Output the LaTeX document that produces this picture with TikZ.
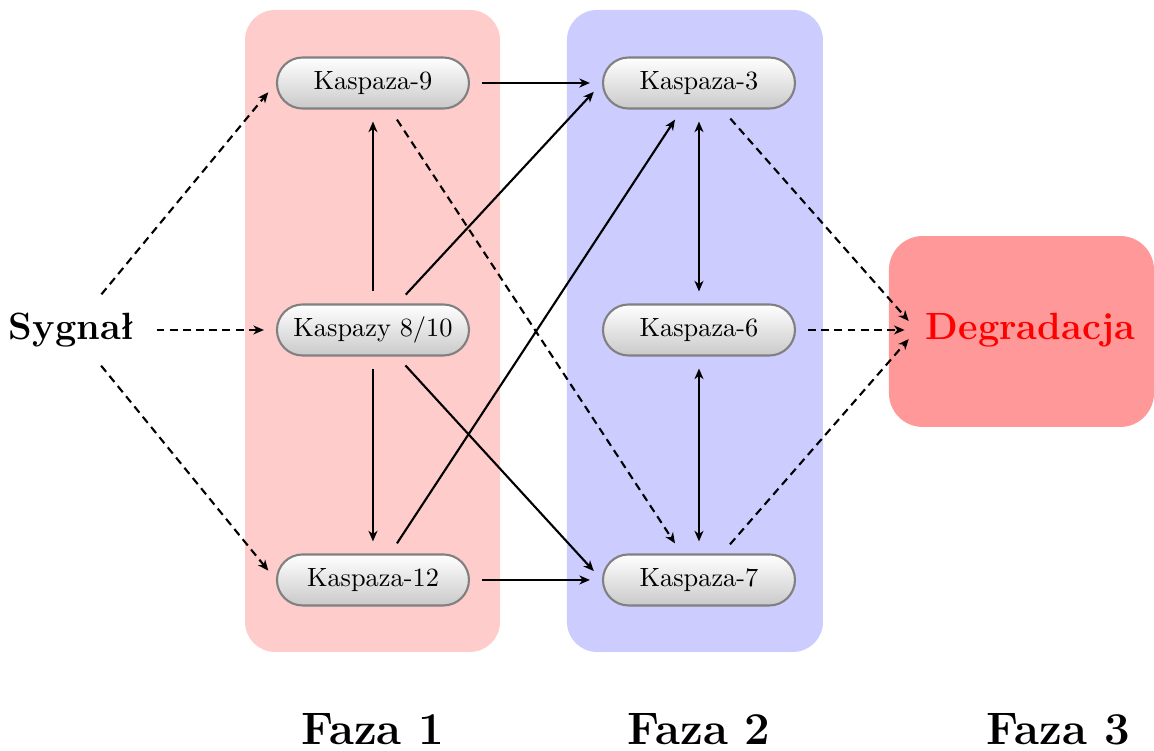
\documentclass[tikz,border=0pt]{standalone}
\usepackage{fontspec}
\usepackage{tikz}
\usetikzlibrary{
    arrows.meta,
    calc
}
\tikzset{
    kaspaza/.style={rectangle, rounded corners=0.34cm, draw=gray, thick, top color=white, bottom color=gray!42, minimum width=2.56cm, minimum height=0.68cm},
    tlo/.style={fill=#1, rounded corners=0.4cm},
    strzalka/.style={-{Stealth[length=4pt, width=3.4pt, inset=1.2pt]}, thick, shorten >=0.16cm, shorten <=0.16cm},
    obustronna/.style={strzalka, {Stealth[length=4pt, width=3.4pt, inset=1.2pt]}-{Stealth[length=4pt, width=3.4pt, inset=1.2pt]}},
    przerywana/.style={strzalka, densely dashed},
    faza/.style={font=\LARGE\bfseries}
}

\begin{document}
\begin{tikzpicture}
    \useasboundingbox (0, 0) rectangle (15.387, -10.013);
    % tla faz
    \fill[tlo=red!20] (3.267, -0.133) rectangle (6.667, -8.693);
    \fill[tlo=blue!20] (7.56, -0.133) rectangle (10.973, -8.693);
    \fill[tlo=red!40, rounded corners=0.45cm] (11.853, -3.147) rectangle (15.387, -5.693);

    \node[font=\Large\bfseries] (sygnal) at (0.96, -4.4) {Sygnał};
    \node[font=\Large\bfseries, text=red] (deg) at (13.74, -4.4) {Degradacja};

    \node[kaspaza] (k9) at (4.973, -1.107) {Kaspaza-9};
    \node[kaspaza] (k810) at (4.973, -4.4) {Kaspazy 8/10};
    \node[kaspaza] (k12) at (4.973, -7.733) {Kaspaza-12};
    \node[kaspaza] (k3) at (9.32, -1.107) {Kaspaza-3};
    \node[kaspaza] (k6) at (9.32, -4.4) {Kaspaza-6};
    \node[kaspaza] (k7) at (9.32, -7.733) {Kaspaza-7};

    % faza 1
    \draw[przerywana] (sygnal) -- (k9.west);
    \draw[przerywana] (sygnal) -- (k810);
    \draw[przerywana] (sygnal) -- (k12.west);
    \draw[strzalka] (k810) -- (k9);
    \draw[strzalka] (k810) -- (k12);

    % faza 1 -> faza 2
    \draw[strzalka] (k9) -- (k3);
    \draw[strzalka] (k12) -- (k7);
    \draw[strzalka] (k810) -- (k3.west);
    \draw[strzalka] (k810) -- (k7.west);
    \draw[strzalka] (k12) -- (k3);
    \draw[przerywana] (k9) -- (k7);

    % faza 2
    \draw[obustronna] (k3) -- (k6);
    \draw[obustronna] (k6) -- (k7);

    % faza 2 -> faza 3
    \draw[przerywana] (k3) -- (deg.west);
    \draw[przerywana] (k6) -- (deg);
    \draw[przerywana] (k7) -- (deg.west);

    \node[faza] (f1) at (4.973, -9.72) {Faza 1};
    \node[faza] (f2) at (9.32, -9.72) {Faza 2};
    \node[faza] (f3) at (14.11, -9.72) {Faza 3};
\end{tikzpicture}
\end{document}
